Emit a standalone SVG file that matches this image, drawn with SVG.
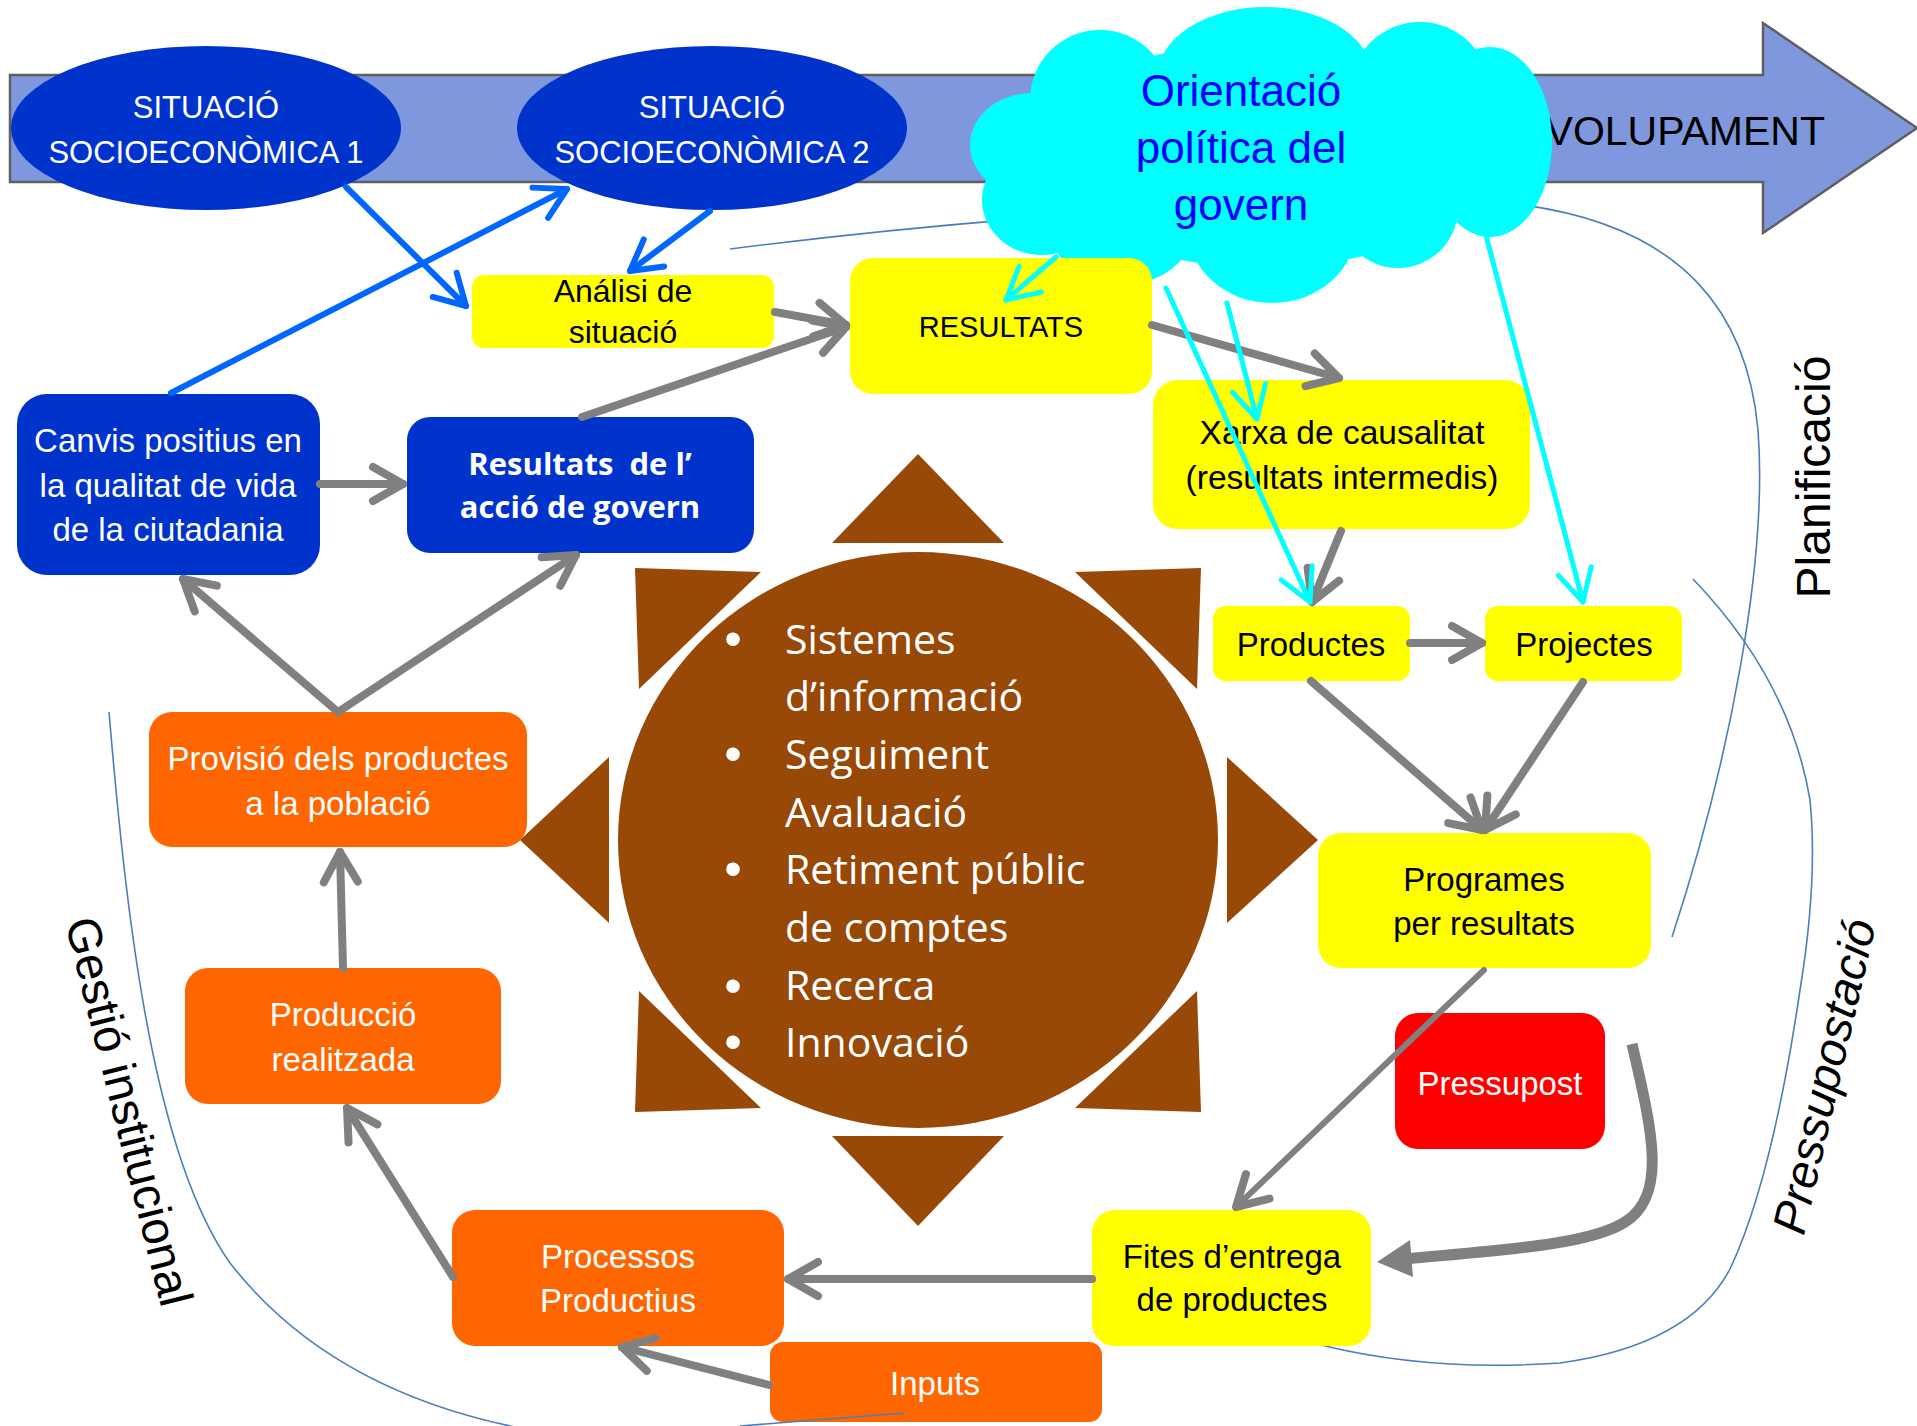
<svg xmlns="http://www.w3.org/2000/svg" width="1917" height="1426" viewBox="0 0 1917 1426">
<defs>
<marker id="mGray" markerUnits="userSpaceOnUse" viewBox="-40 -30 50 60" markerWidth="50" markerHeight="60" refX="0" refY="0" orient="auto" overflow="visible">
<path d="M-30,-17 L0,0 L-30,17" fill="none" stroke="#808080" stroke-width="8" stroke-linecap="round" stroke-linejoin="round"/>
</marker>
<marker id="mBlue" markerUnits="userSpaceOnUse" viewBox="-40 -30 50 60" markerWidth="50" markerHeight="60" refX="0" refY="0" orient="auto" overflow="visible">
<path d="M-30,-17 L0,0 L-30,17" fill="none" stroke="#0066FF" stroke-width="6" stroke-linecap="round" stroke-linejoin="round"/>
</marker>
<marker id="mCyan" markerUnits="userSpaceOnUse" viewBox="-40 -30 50 60" markerWidth="50" markerHeight="60" refX="0" refY="0" orient="auto" overflow="visible">
<path d="M-32,-17 L0,0 L-32,17" fill="none" stroke="#00FFFF" stroke-width="5" stroke-linecap="round" stroke-linejoin="round"/>
</marker>
</defs>
<style>
.t{font-family:"Liberation Sans",Arial,sans-serif;text-anchor:middle}
.w{fill:#FFFFFF}
.k{fill:#000000}
.blue{fill:#0033CC}
.yel{fill:#FFFF00}
.ora{fill:#FF6600}
.red{fill:#FF0000}
.brown{fill:#984807}
.thin{fill:none;stroke:#4A7EBB;stroke-width:1.6}
.g{fill:none;stroke:#808080;stroke-width:8;stroke-linecap:round}
.b{fill:none;stroke:#0066FF;stroke-width:6;stroke-linecap:round}
.c{fill:none;stroke:#00FFFF;stroke-width:5;stroke-linecap:round}
.cl{fill:#00FFFF}
.sun{font-family:"Open Sans","Liberation Sans",sans-serif;font-size:41px;fill:#FFFFFF}
</style>

<g id="bigArrow">
<polygon points="10,75 1763,75 1763,23 1917,128 1763,233 1763,182 10,182" fill="#7F97DC" stroke="#5F5F5F" stroke-width="2.5"/>
<text class="t k" x="1825" y="145" font-size="41" style="text-anchor:end">VOLUPAMENT</text>
</g>

<g id="phaseCurves">
<path class="thin" d="M730,249 C1000,215 1300,195 1515,204 C1690,225 1748,320 1758,430 C1768,560 1730,760 1672,937"/>
<path class="thin" d="M1693,579 Q1790,680 1810,800 Q1818,880 1800,990 Q1772,1180 1730,1269 Q1690,1345 1560,1363 Q1430,1372 1321,1345"/>
<path class="thin" d="M109,712 C125,900 150,1150 230,1263 C290,1340 380,1400 520,1428"/>
<text class="t k" font-size="48" transform="translate(1830,477) rotate(-90)">Planificació</text>
<text class="t k" font-size="47" font-style="italic" transform="translate(1840,1080) rotate(-77)">Pressupostació</text>
<text class="t k" font-size="47.5" style="text-anchor:start" transform="translate(65,922) rotate(76)">Gestió institucional</text>
</g>

<g id="sun">
<ellipse class="brown" cx="918" cy="840" rx="300" ry="288"/>
<polygon class="brown" points="918,454 832,543 1004,543"/>
<polygon class="brown" points="918,1226 832,1136 1004,1136"/>
<polygon class="brown" points="520,840 609,757 609,923"/>
<polygon class="brown" points="1318,840 1227,757 1227,923"/>
<polygon class="brown" points="635,568 761,572 639,689"/>
<polygon class="brown" points="1201,568 1075,572 1197,689"/>
<polygon class="brown" points="635,1112 761,1108 639,991"/>
<polygon class="brown" points="1201,1112 1075,1108 1197,991"/>
<g class="t w" font-size="50" style="font-family:'Liberation Sans',sans-serif">
<text x="733" y="656">•</text>
<text x="733" y="771">•</text>
<text x="733" y="886">•</text>
<text x="733" y="1003">•</text>
<text x="733" y="1059">•</text>
</g>
<text class="sun" x="785" y="654">Sistemes</text>
<text class="sun" x="785" y="711">d’informació</text>
<text class="sun" x="785" y="769">Seguiment</text>
<text class="sun" x="785" y="827">Avaluació</text>
<text class="sun" x="785" y="884">Retiment públic</text>
<text class="sun" x="785" y="942">de comptes</text>
<text class="sun" x="785" y="1000">Recerca</text>
<text class="sun" x="785" y="1057">Innovació</text>
</g>

<g id="situacio1">
<ellipse class="blue" cx="206" cy="128" rx="195" ry="82"/>
<text class="t w" x="206" y="118" font-size="31">SITUACIÓ</text>
<text class="t w" x="206" y="163" font-size="31">SOCIOECONÒMICA 1</text>
</g>
<g id="situacio2">
<ellipse class="blue" cx="712" cy="128" rx="195" ry="82"/>
<text class="t w" x="712" y="118" font-size="31">SITUACIÓ</text>
<text class="t w" x="712" y="163" font-size="31">SOCIOECONÒMICA 2</text>
</g>

<g id="orientacio">
<ellipse class="cl" cx="1262" cy="155" rx="235" ry="112"/>
<circle class="cl" cx="1100" cy="100" r="70"/>
<ellipse class="cl" cx="1265" cy="78" rx="108" ry="71"/>
<circle class="cl" cx="1420" cy="92" r="70"/>
<ellipse class="cl" cx="1490" cy="142" rx="62" ry="95"/>
<circle class="cl" cx="1398" cy="208" r="60"/>
<ellipse class="cl" cx="1272" cy="226" rx="85" ry="77"/>
<ellipse class="cl" cx="1122" cy="227" rx="72" ry="58"/>
<ellipse class="cl" cx="1042" cy="200" rx="60" ry="55"/>
<ellipse class="cl" cx="1032" cy="145" rx="62" ry="52"/>
<text class="t" fill="#0000FF" x="1241" y="106" font-size="44">Orientació</text>
<text class="t" fill="#0000FF" x="1241" y="163" font-size="44">política del</text>
<text class="t" fill="#0000FF" x="1241" y="220" font-size="44">govern</text>
</g>

<g id="analisi">
<rect class="yel" x="472" y="275" width="302" height="73" rx="12"/>
<text class="t k" x="623" y="302" font-size="32">Análisi de</text>
<text class="t k" x="623" y="343" font-size="32">situació</text>
</g>
<g id="resultats">
<rect class="yel" x="850" y="258" width="302" height="136" rx="23"/>
<text class="t k" x="1001" y="337" font-size="29">RESULTATS</text>
</g>
<g id="canvis">
<rect class="blue" x="17" y="394" width="303" height="181" rx="30"/>
<text class="t w" x="168" y="452" font-size="33">Canvis positius en</text>
<text class="t w" x="168" y="497" font-size="33">la qualitat de vida</text>
<text class="t w" x="168" y="541" font-size="33">de la ciutadania</text>
</g>
<g id="resultatsAccio">
<rect class="blue" x="407" y="417" width="347" height="136" rx="23"/>
<text class="t w" x="580" y="475" font-size="31" font-weight="bold" style="font-family:'Open Sans','Liberation Sans',sans-serif" xml:space="preserve">Resultats  de l’</text>
<text class="t w" x="580" y="518" font-size="31" font-weight="bold" style="font-family:'Open Sans','Liberation Sans',sans-serif">acció de govern</text>
</g>
<g id="xarxa">
<rect class="yel" x="1153" y="380" width="377" height="149" rx="25"/>
<text class="t k" x="1342" y="444" font-size="33.5">Xarxa de causalitat</text>
<text class="t k" x="1342" y="489" font-size="33.5">(resultats intermedis)</text>
</g>
<g id="productes">
<rect class="yel" x="1213" y="606" width="197" height="75" rx="13"/>
<text class="t k" x="1311" y="656" font-size="33">Productes</text>
</g>
<g id="projectes">
<rect class="yel" x="1485" y="606" width="197" height="75" rx="13"/>
<text class="t k" x="1584" y="656" font-size="33">Projectes</text>
</g>
<g id="programes">
<rect class="yel" x="1318" y="833" width="333" height="135" rx="23"/>
<text class="t k" x="1484" y="891" font-size="33">Programes</text>
<text class="t k" x="1484" y="935" font-size="33">per resultats</text>
</g>
<g id="pressupost">
<rect class="red" x="1395" y="1013" width="210" height="136" rx="23"/>
<text class="t w" x="1500" y="1095" font-size="33">Pressupost</text>
</g>
<g id="fites">
<rect class="yel" x="1092" y="1210" width="279" height="136" rx="23"/>
<text class="t k" x="1232" y="1268" font-size="33">Fites d’entrega</text>
<text class="t k" x="1232" y="1311" font-size="33">de productes</text>
</g>
<g id="processos">
<rect class="ora" x="452" y="1210" width="332" height="136" rx="23"/>
<text class="t w" x="618" y="1268" font-size="33">Processos</text>
<text class="t w" x="618" y="1312" font-size="33">Productius</text>
</g>
<g id="inputs">
<rect class="ora" x="770" y="1342" width="332" height="80" rx="13"/>
<text class="t w" x="935" y="1395" font-size="33">Inputs</text>
</g>
<g id="produccio">
<rect class="ora" x="185" y="968" width="316" height="136" rx="23"/>
<text class="t w" x="343" y="1026" font-size="33">Producció</text>
<text class="t w" x="343" y="1071" font-size="33">realitzada</text>
</g>
<g id="provisio">
<rect class="ora" x="149" y="712" width="378" height="135" rx="23"/>
<text class="t w" x="338" y="770" font-size="33">Provisió dels productes</text>
<text class="t w" x="338" y="815" font-size="33">a la població</text>
</g>

<g id="connectors">
<path class="g" d="M775,312 L846,325" marker-end="url(#mGray)"/>
<path class="g" d="M582,417 L846,327" marker-end="url(#mGray)"/>
<path class="g" d="M1152,325 L1339,378" marker-end="url(#mGray)"/>
<path class="g" d="M320,484 L403,484" marker-end="url(#mGray)"/>
<path class="g" d="M338,712 L183,579" marker-end="url(#mGray)"/>
<path class="g" d="M338,712 L576,555" marker-end="url(#mGray)"/>
<path class="g" d="M343,968 L340,852" marker-end="url(#mGray)"/>
<path class="g" d="M453,1277 L347,1108" marker-end="url(#mGray)"/>
<path class="g" d="M1092,1279 L788,1279" marker-end="url(#mGray)"/>
<path class="g" d="M769,1385 L622,1347" marker-end="url(#mGray)"/>
<path class="g" d="M1484,970 L1236,1207" marker-end="url(#mGray)" style="stroke-width:6"/>
<path class="g" d="M1341,531 L1312,602" marker-end="url(#mGray)"/>
<path class="g" d="M1410,643 L1482,643" marker-end="url(#mGray)"/>
<path class="g" d="M1311,681 L1482,830" marker-end="url(#mGray)"/>
<path class="g" d="M1583,682 L1485,830" marker-end="url(#mGray)"/>
<path class="g" d="M1632,1044 C1652,1130 1668,1195 1625,1222 C1590,1245 1500,1250 1405,1259" style="stroke-width:11;stroke-linecap:butt"/>
<polygon points="1377,1262 1410,1240 1413,1277" fill="#808080"/>
<path class="b" d="M346,187 L466,306" marker-end="url(#mBlue)"/>
<path class="b" d="M171,393 L567,189" marker-end="url(#mBlue)"/>
<path class="b" d="M710,211 L630,271" marker-end="url(#mBlue)"/>
<path class="c" d="M1056,257 L1006,300" marker-end="url(#mCyan)"/>
<path class="c" d="M1166,288 L1310,602" marker-end="url(#mCyan)"/>
<path class="c" d="M1227,303 L1257,419" marker-end="url(#mCyan)"/>
<path class="c" d="M1484,228 L1583,602" marker-end="url(#mCyan)"/>
</g>
<path class="thin" d="M740,1426 L905,1413"/>
</svg>
